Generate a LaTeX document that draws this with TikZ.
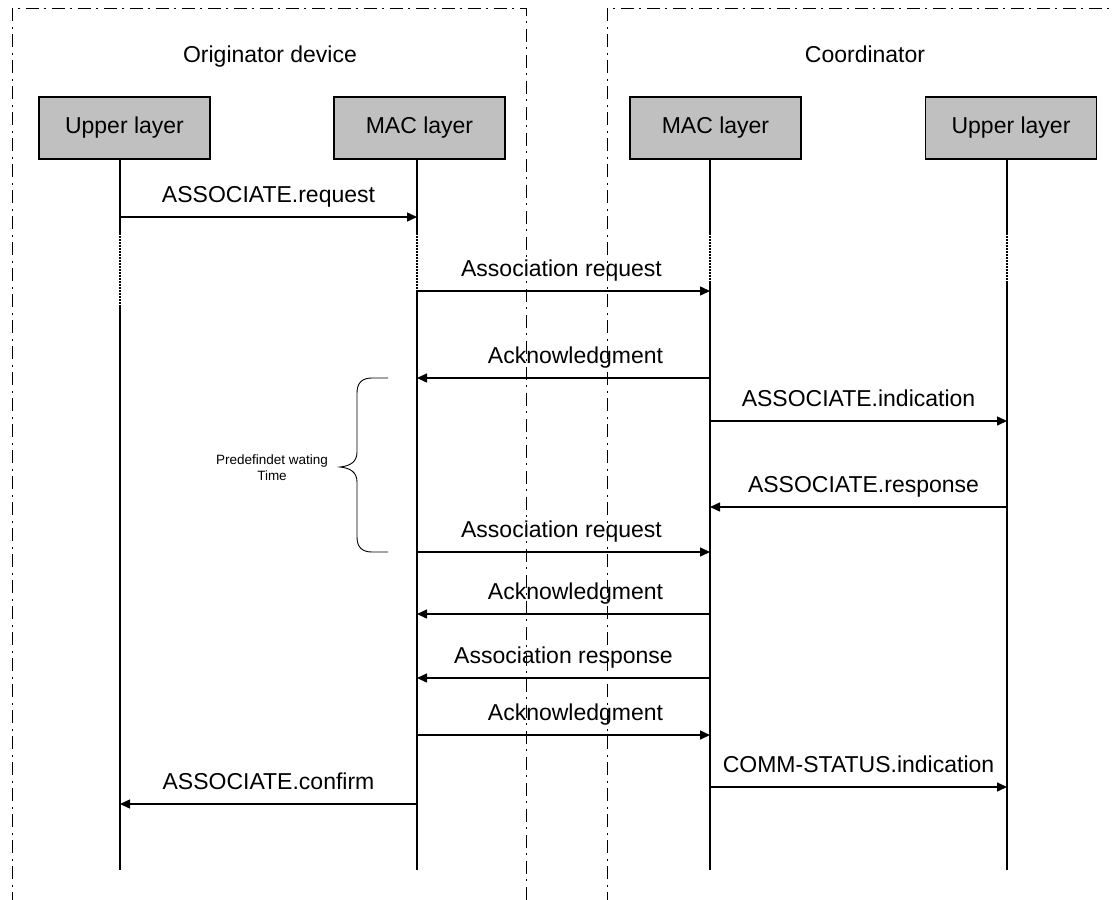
\documentclass[tikz,border=0pt]{standalone}
\usepackage{fontspec}
\setmainfont{Liberation Sans}
\usetikzlibrary{arrows.meta}
\definecolor{boxgray}{RGB}{192,192,192}
% one message: [label x offset]{from column}{to column}{y}{label}
\newcommand\msgline[5][0]{%
  \draw[msg] (#2 |- 0,#4) -- (#3 |- 0,#4)
    node[midway, anchor=base, yshift=15pt, xshift=#1pt, msglabel] {#5};}
\begin{document}
\begin{tikzpicture}[x=1pt,y=-1pt,
  layerbox/.style={draw=black, line width=1.1pt, fill=boxgray,
    minimum width=171pt, minimum height=62pt, inner sep=0pt,
    font=\fontsize{23}{27}\selectfont},
  lifeline/.style={line width=1.3pt},
  gapline/.style={line width=1.3pt, dash pattern=on 1.5pt off 1.5pt},
  msg/.style={line width=1.4pt, -{Triangle[length=10pt,width=9pt]}},
  msglabel/.style={font=\fontsize{23}{27}\selectfont, inner sep=0pt},
  frameline/.style={line width=1pt, dash pattern=on 13pt off 5pt on 2pt off 6pt},
  title/.style={font=\fontsize{23}{27}\selectfont, anchor=base, inner sep=0pt},
]
\useasboundingbox (0,0) rectangle (1115,899);

% device frames (open at the bottom and on the right)
\begin{scope}
  \clip (0,0) rectangle (1115,899);
  \draw[frameline] (12,905) -- (12,9) -- (526,9) -- (526,905);
  \draw[frameline] (607,905) -- (607,9) -- (1125,9);
\end{scope}

\node[title] (t1) at (270,63) {Originator device};
\node[title] (t2) at (865,63) {Coordinator};

% lifeline columns
\coordinate (A) at (120,0);
\coordinate (B) at (417,0);
\coordinate (C) at (710,0);
\coordinate (D) at (1007,0);

% layer boxes
\node[layerbox] (uo) at (124.5,128) {Upper layer};
\node[layerbox] (mo) at (419.5,128) {MAC layer};
\node[layerbox] (mc) at (715.5,128) {MAC layer};
\node[layerbox] (uc) at (1011,128) {Upper layer};

% lifelines with their dotted gaps
\draw[lifeline] (A |- uo.south) -- (A |- 0,233);
\draw[gapline]  (A |- 0,233) -- (A |- 0,307);
\draw[lifeline] (A |- 0,307) -- (A |- 0,870);

\draw[lifeline] (B |- mo.south) -- (B |- 0,233);
\draw[gapline]  (B |- 0,233) -- (B |- 0,291);
\draw[lifeline] (B |- 0,291) -- (B |- 0,870);

\draw[lifeline] (C |- mc.south) -- (C |- 0,233);
\draw[gapline]  (C |- 0,233) -- (C |- 0,281);
\draw[lifeline] (C |- 0,281) -- (C |- 0,870);

\draw[lifeline] (D |- uc.south) -- (D |- 0,233);
\draw[gapline]  (D |- 0,233) -- (D |- 0,281);
\draw[lifeline] (D |- 0,281) -- (D |- 0,870);

% messages
\msgline{A}{B}{217}{ASSOCIATE.request}
\msgline[-2]{B}{C}{291}{Association request}
\msgline[12]{C}{B}{378}{Acknowledgment}
\msgline{C}{D}{421}{ASSOCIATE.indication}
\msgline[5]{D}{C}{507}{ASSOCIATE.response}
\msgline[-2]{B}{C}{552}{Association request}
\msgline[12]{C}{B}{614}{Acknowledgment}
\msgline{C}{B}{678}{Association response}
\msgline[12]{B}{C}{735}{Acknowledgment}
\msgline{C}{D}{787}{COMM-STATUS.indication}
\msgline{B}{A}{804}{ASSOCIATE.confirm}

% waiting-time brace
\draw[line width=0.9pt]
  (388,378) -- (372,378) .. controls (362,378) and (357,383) .. (357,393)
  -- (357,452) .. controls (357,462) and (350,466) .. (340,467)
  .. controls (350,468) and (357,472) .. (357,482)
  -- (357,537) .. controls (357,547) and (362,552) .. (372,552) -- (388,552);
\node[font=\fontsize{13.5}{16}\selectfont, align=center, inner sep=0pt] (wait)
  at (272,468) {Predefindet wating\\Time};
\end{tikzpicture}
\end{document}
